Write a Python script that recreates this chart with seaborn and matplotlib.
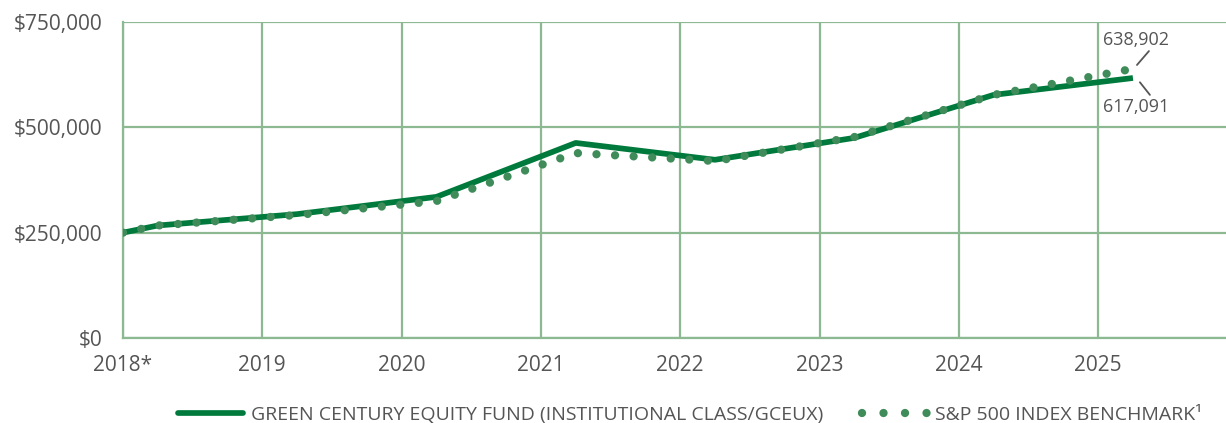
import matplotlib
matplotlib.use("Agg")
import matplotlib.pyplot as plt
from matplotlib.lines import Line2D
import seaborn as sns
import pandas as pd

# ---- data ----
dates = [2018.0, 2018.25, 2019.25, 2020.25, 2021.25, 2022.25, 2023.25, 2024.25, 2025.25]
fund_values = [250000, 267000, 294000, 335000, 463000, 423000, 475000, 577000, 617091]
sp500_values = [250000, 267000, 292000, 325000, 439000, 420000, 477000, 577000, 638902]
year_ticks = [2018, 2019, 2020, 2021, 2022, 2023, 2024, 2025]
year_labels = ["2018*", "2019", "2020", "2021", "2022", "2023", "2024", "2025"]
value_ticks = [0, 250000, 500000, 750000]
value_labels = ["$0", "$250,000", "$500,000", "$750,000"]
fund_name = "GREEN CENTURY EQUITY FUND (INSTITUTIONAL CLASS/GCEUX)"
sp_name = "S&P 500 INDEX BENCHMARK\u00b9"

FUND_C = "#007a3c"
SP_C = "#3f8c5a"
GRID_C = "#8db992"
TEXT_C = "#555555"

sns.set_theme(style="white")
plt.rcParams["font.family"] = ["Open Sans", "DejaVu Sans"]

df = pd.DataFrame({"date": dates, "fund": fund_values, "sp": sp500_values})

W, H = 1226, 423
fig = plt.figure(figsize=(W / 100, H / 100), dpi=100)
ax = fig.add_axes([123 / W, (H - 338) / H, (W - 123) / W, (338 - 22) / H])

sns.lineplot(data=df, x="date", y="fund", ax=ax, color=FUND_C, linewidth=4.1,
             solid_capstyle="butt", zorder=3)
sns.lineplot(data=df, x="date", y="sp", ax=ax, color=SP_C, linewidth=6.0,
             linestyle=(0, (0.001, 2.23)), dash_capstyle="round", zorder=4)

ax.set_xlim(2018, 2018 + (W - 123) / 139.3)
ax.set_ylim(0, 750000)
ax.set_xticks(year_ticks)
ax.set_xticklabels(year_labels)
ax.set_yticks(value_ticks)
ax.set_yticklabels(value_labels)
ax.set_xlabel("")
ax.set_ylabel("")
ax.grid(True, color=GRID_C, linewidth=1.6)
ax.set_axisbelow(True)
for s in ["top", "right"]:
    ax.spines[s].set_visible(False)
for s in ["left", "bottom"]:
    ax.spines[s].set_color(GRID_C)
    ax.spines[s].set_linewidth(1.6)
ax.tick_params(axis="both", length=0, labelsize=15, colors=TEXT_C)
ax.tick_params(axis="y", pad=15)
ax.tick_params(axis="x", pad=12)

# end-value annotations
ax.text(2025.27, 707000, f"{sp500_values[-1]:,}", ha="center", va="center",
        fontsize=13, color=TEXT_C)
ax.text(2025.27, 548000, f"{fund_values[-1]:,}", ha="center", va="center",
        fontsize=13, color=TEXT_C)
ax.annotate("", xy=(2025.279, 648000), xytext=(2025.365, 681000),
            arrowprops=dict(arrowstyle="-", color=TEXT_C, lw=1.3, shrinkA=0, shrinkB=0))
ax.annotate("", xy=(2025.30, 607000), xytext=(2025.372, 577000),
            arrowprops=dict(arrowstyle="-", color=TEXT_C, lw=1.3, shrinkA=0, shrinkB=0))

handles = [
    Line2D([], [], color=FUND_C, linewidth=4.1, solid_capstyle="round"),
    Line2D([], [], color=SP_C, linewidth=6.0, linestyle=(0, (0.001, 2.58)),
           dash_capstyle="round"),
]
leg = fig.legend(handles, [fund_name, sp_name], loc="center", ncol=2,
                 bbox_to_anchor=(690 / W, (H - 415) / H), frameon=False,
                 fontsize=14, handlelength=3.35, handletextpad=0.4, columnspacing=2.0,
                 borderpad=0)
for t in leg.get_texts():
    t.set_color(TEXT_C)

fig.savefig("out.png", dpi=100)
